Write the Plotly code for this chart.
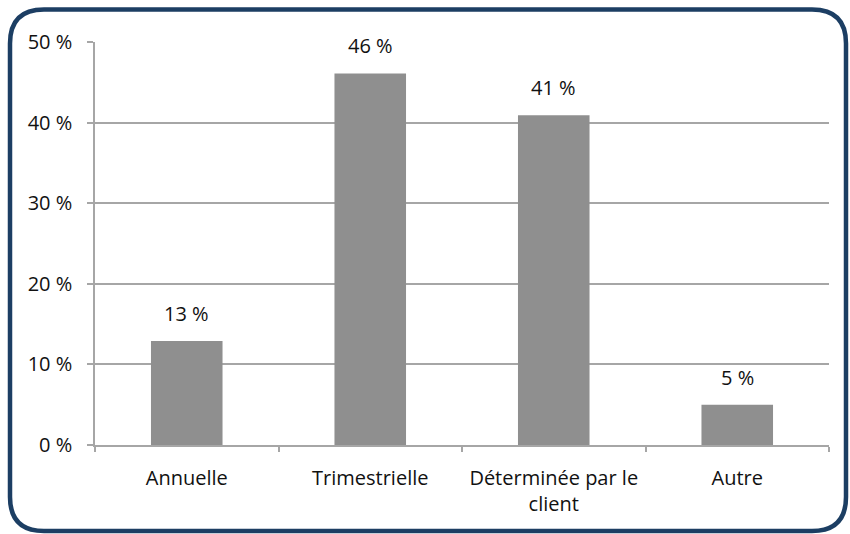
import plotly.graph_objects as go

categories = ["Annuelle", "Trimestrielle", "Déterminée par le<br>client", "Autre"]
values = [12.9, 46.1, 40.9, 5.0]
value_labels = ["13 %", "46 %", "41 %", "5 %"]

W, H = 850, 534
L, R, T, B = 95, 21, 42, 89
pw, ph = W - L - R, H - T - B


def px_x(x):
    return (x - L) / pw


def px_y(y):
    return 1 - (y - T) / ph


def border_path(x0, y0, x1, y1, r):
    # rounded rectangle in paper coordinates, from pixel positions
    pts = [
        f"M {px_x(x0 + r)},{px_y(y0)}",
        f"L {px_x(x1 - r)},{px_y(y0)}",
        f"Q {px_x(x1)},{px_y(y0)} {px_x(x1)},{px_y(y0 + r)}",
        f"L {px_x(x1)},{px_y(y1 - r)}",
        f"Q {px_x(x1)},{px_y(y1)} {px_x(x1 - r)},{px_y(y1)}",
        f"L {px_x(x0 + r)},{px_y(y1)}",
        f"Q {px_x(x0)},{px_y(y1)} {px_x(x0)},{px_y(y1 - r)}",
        f"L {px_x(x0)},{px_y(y0 + r)}",
        f"Q {px_x(x0)},{px_y(y0)} {px_x(x0 + r)},{px_y(y0)}",
        "Z",
    ]
    return " ".join(pts)


font_family = "'Open Sans', sans-serif"

fig = go.Figure()
fig.add_trace(go.Bar(
    x=categories, y=values,
    marker=dict(color="#8f8f8f", line=dict(width=0)),
    width=0.39,
))

for c, v, t in zip(categories, values, value_labels):
    fig.add_annotation(x=c, y=v, text=t, showarrow=False,
                       yanchor="bottom", yshift=12,
                       font=dict(size=20, color="#111111", family=font_family))

fig.add_shape(type="path", xref="paper", yref="paper",
              path=border_path(10, 9.5, 846, 531, 34),
              line=dict(color="#1c3e63", width=4.5), layer="above")

fig.update_layout(
    width=W, height=H,
    margin=dict(l=L, r=R, t=T, b=B, autoexpand=False),
    plot_bgcolor="white", paper_bgcolor="white",
    showlegend=False,
    font=dict(family=font_family, size=20, color="#111111"),
)
fig.update_xaxes(
    type="category", tickson="boundaries", ticks="outside", ticklen=5,
    tickcolor="#a6a6a6", tickwidth=1.5,
    showline=True, linecolor="#a6a6a6", linewidth=1.5,
    showgrid=False, tickfont=dict(size=20), automargin=False,
    ticklabelstandoff=14,
)
fig.update_yaxes(
    range=[0, 50], dtick=10, ticksuffix=" %",
    ticks="outside", ticklen=6, tickcolor="#a6a6a6", tickwidth=1.5,
    showline=True, linecolor="#a6a6a6", linewidth=1.5,
    showgrid=True, gridcolor="#a6a6a6", gridwidth=1.5,
    zeroline=False, tickfont=dict(size=20), ticklabelstandoff=11,
    automargin=False,
)

fig.write_html("out.html", config={"displayModeBar": False},
               post_script="document.body.style.margin='0';")
